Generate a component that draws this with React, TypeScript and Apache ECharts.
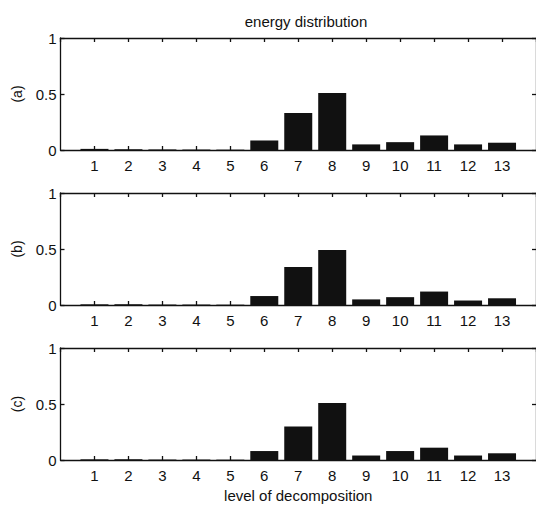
import React, { useEffect, useRef } from "react";
import * as echarts from "echarts";

const levels = [1, 2, 3, 4, 5, 6, 7, 8, 9, 10, 11, 12, 13];
const panelLabels = ["(a)", "(b)", "(c)"];
const energyA = [0.01, 0.006, 0.005, 0.004, 0.003, 0.085, 0.33, 0.51, 0.05, 0.07, 0.13, 0.05, 0.065];
const energyB = [0.006, 0.007, 0.004, 0.004, 0.003, 0.08, 0.34, 0.49, 0.05, 0.07, 0.12, 0.04, 0.06];
const energyC = [0.006, 0.006, 0.004, 0.004, 0.003, 0.08, 0.3, 0.51, 0.04, 0.08, 0.11, 0.04, 0.06];
const titleText = "energy distribution";
const xAxisTitle = "level of decomposition";

const FONT = "'Liberation Sans', Arial, Helvetica, sans-serif";
const INK = "#111111";

export default function App() {
  const ref = useRef<HTMLDivElement>(null);
  useEffect(() => {
    const chart = echarts.init(ref.current!, null, { renderer: "svg" });
    const panels = [energyA, energyB, energyC];
    const tops = [38, 193, 348];
    const lineStyle = { color: INK, width: 1.3 };
    const grid = tops.map((t) => ({ left: 60.5, right: -4, top: t, height: 112 }));
    const xAxis: any[] = [];
    const yAxis: any[] = [];
    tops.forEach((_, i) => {
      const xBase = {
        type: "value",
        gridIndex: i,
        min: 0,
        max: 14,
        interval: 1,
        splitLine: { show: false },
        axisLine: { show: true, onZero: false, lineStyle },
        axisTick: { show: true, inside: true, length: 4, lineStyle },
      };
      xAxis.push({
        ...xBase,
        position: "bottom",
        axisLabel: {
          show: true,
          margin: 8,
          color: INK,
          fontSize: 15,
          fontFamily: FONT,
          showMinLabel: false,
          showMaxLabel: false,
          formatter: (v: number) => (v >= 1 && v <= 13 ? String(v) : ""),
        },
        ...(i === 2
          ? {
              name: xAxisTitle,
              nameLocation: "middle",
              nameGap: 28,
              nameTextStyle: { color: INK, fontSize: 15, fontFamily: FONT },
            }
          : {}),
      });
      xAxis.push({ ...xBase, position: "top", axisLabel: { show: false } });
      const yBase = {
        type: "value",
        gridIndex: i,
        min: 0,
        max: 1,
        interval: 0.5,
        splitLine: { show: false },
        axisLine: { show: true, onZero: false, lineStyle },
        axisTick: { show: true, inside: true, length: 4, lineStyle },
      };
      yAxis.push({
        ...yBase,
        position: "left",
        name: panelLabels[i],
        nameLocation: "middle",
        nameGap: 37,
        nameRotate: 90,
        nameTextStyle: { color: INK, fontSize: 14, fontFamily: FONT },
        axisLabel: { show: true, margin: 4, color: INK, fontSize: 15, fontFamily: FONT },
      });
      yAxis.push({ ...yBase, position: "right", axisLabel: { show: false } });
    });
    const series = panels.map((vals, i) => ({
      type: "bar",
      xAxisIndex: i * 2,
      yAxisIndex: i * 2,
      barWidth: 28,
      itemStyle: { color: INK },
      data: levels.map((l, k) => [l, vals[k]]),
    }));
    chart.setOption({
      animation: false,
      backgroundColor: "#ffffff",
      grid,
      xAxis,
      yAxis,
      series,
      graphic: [
        {
          type: "text",
          x: 306,
          y: 21,
          style: {
            text: titleText,
            fontSize: 15,
            fontFamily: FONT,
            fill: INK,
            align: "center",
            verticalAlign: "middle",
          },
        },
      ],
    });
    return () => chart.dispose();
  }, []);
  return (
    <div
      ref={ref}
      style={{ position: "fixed", left: 0, top: 0, width: 536, height: 505, background: "#fff" }}
    />
  );
}
